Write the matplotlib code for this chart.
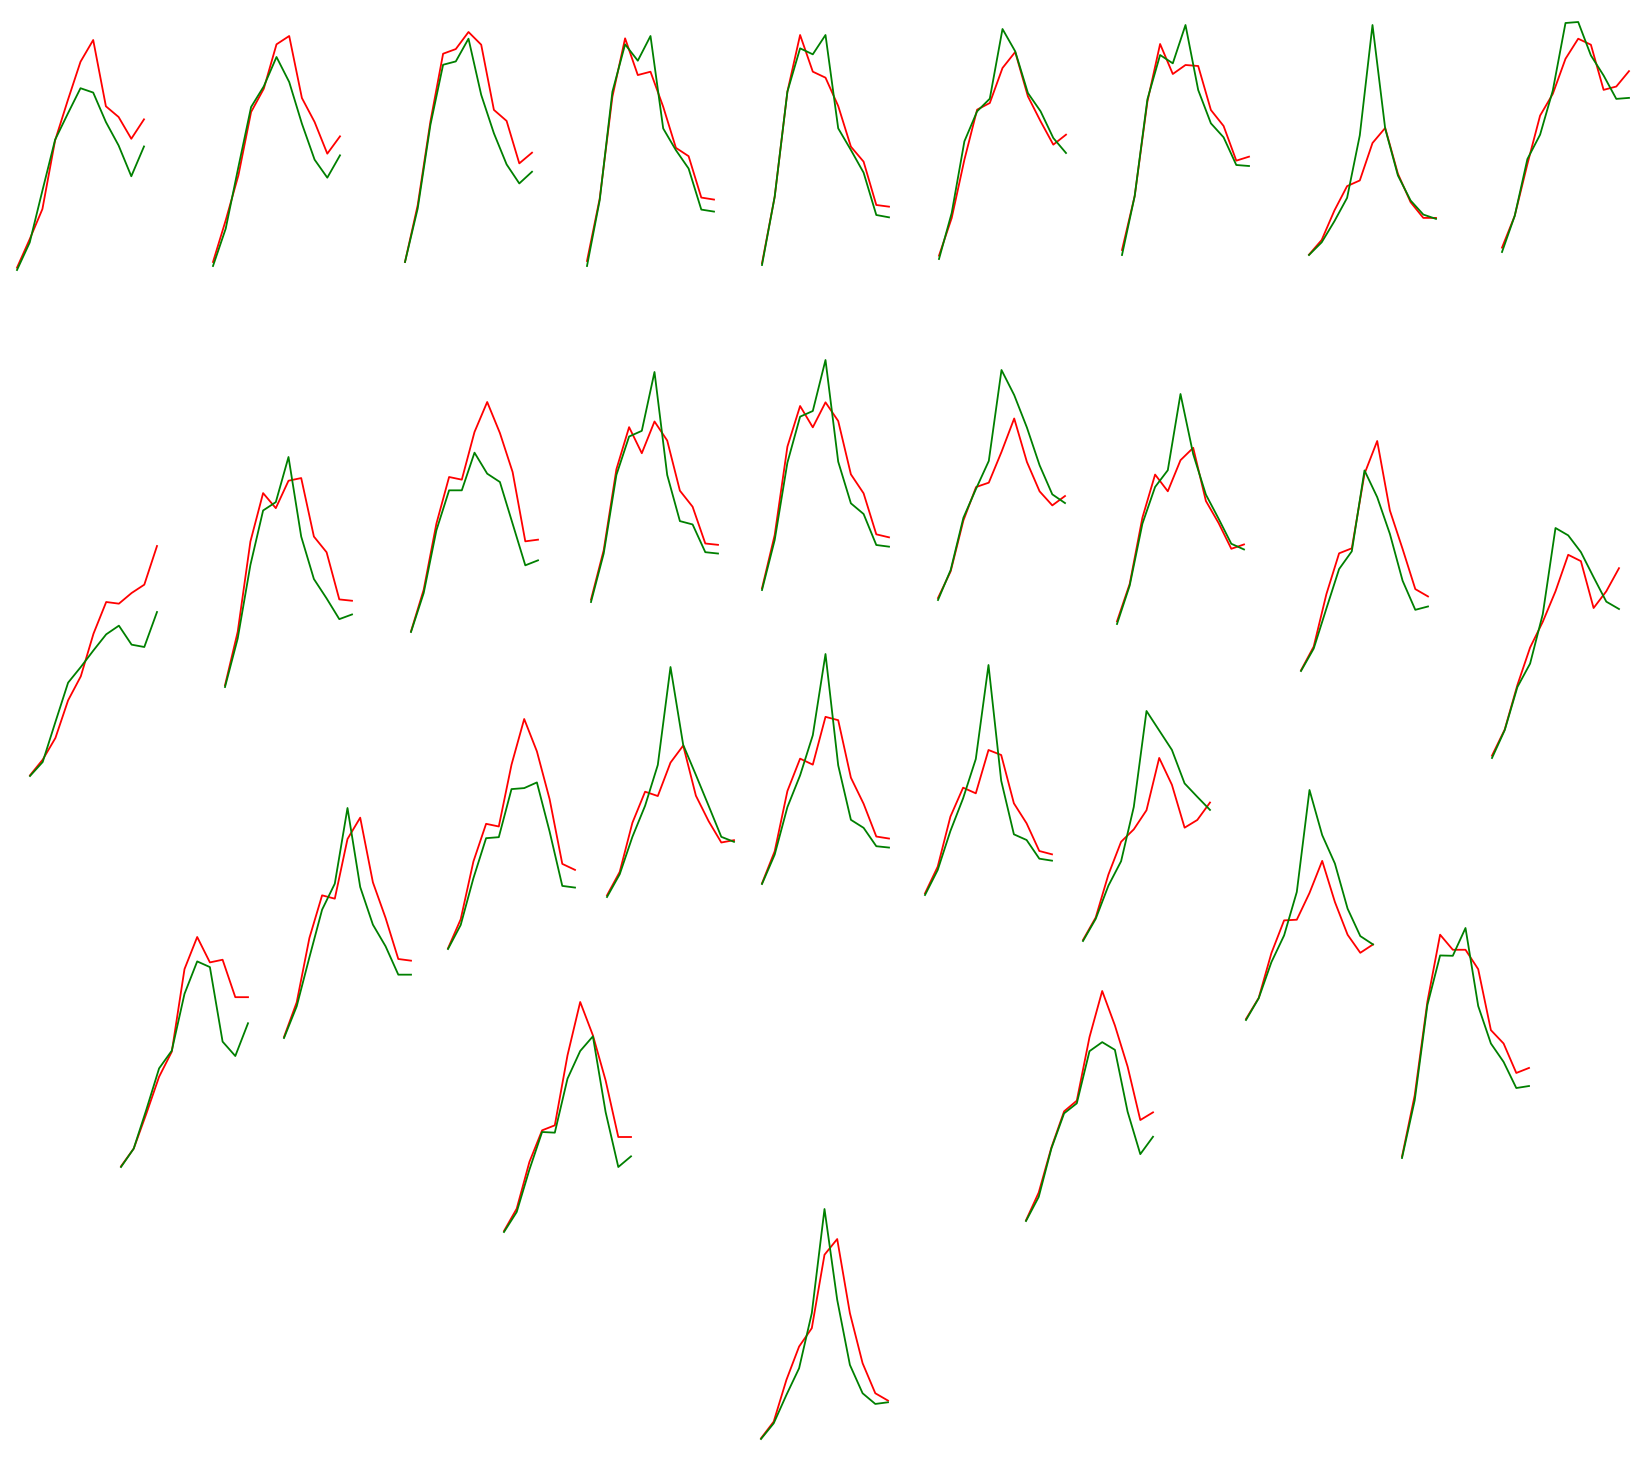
import numpy as np
import matplotlib
matplotlib.use("Agg")
import matplotlib.pyplot as plt

# 11 steps per sparkline
steps = np.arange(11)

# red / green series per panel, row by row (heights)
red_1 = [7, 92, 182, 387, 507, 622, 687, 489, 457, 392, 450]
green_1 = [0, 82, 237, 389, 467, 543, 530, 442, 372, 280, 369]
red_2 = [12, 137, 272, 462, 532, 665, 690, 504, 432, 337, 389]
green_2 = [0, 112, 297, 477, 539, 627, 552, 427, 319, 265, 332]
red_3 = [0, 170, 420, 623, 637, 688, 650, 455, 422, 295, 327]
green_3 = [0, 160, 410, 590, 600, 668, 500, 385, 292, 235, 270]
red_4 = [15, 202, 507, 682, 572, 582, 477, 354, 329, 205, 199]
green_4 = [0, 197, 522, 664, 615, 689, 412, 347, 292, 169, 163]
red_5 = [5, 205, 520, 690, 580, 562, 477, 355, 310, 180, 175]
green_5 = [0, 205, 520, 650, 632, 690, 410, 345, 277, 150, 143]
red_6 = [10, 123, 298, 448, 468, 573, 621, 488, 413, 343, 373]
green_6 = [0, 138, 353, 443, 481, 690, 623, 498, 443, 363, 318]
red_7 = [15, 177, 460, 633, 543, 570, 567, 435, 387, 283, 295]
green_7 = [0, 177, 467, 600, 575, 690, 495, 395, 353, 270, 267]
red_8 = [1, 45, 133, 206, 223, 335, 380, 243, 158, 111, 111]
green_8 = [0, 38, 101, 171, 358, 688, 378, 238, 163, 121, 108]
red_9 = [13, 108, 263, 408, 473, 578, 638, 620, 485, 495, 541]
green_9 = [0, 108, 278, 351, 483, 685, 688, 588, 528, 458, 461]

red_10 = [2, 49, 114, 227, 299, 427, 522, 517, 549, 574, 690]
green_10 = [0, 42, 162, 280, 327, 377, 425, 451, 394, 387, 492]
red_11 = [5, 165, 435, 580, 535, 617, 625, 450, 403, 262, 258]
green_11 = [0, 145, 365, 528, 553, 688, 450, 323, 265, 203, 217]
red_12 = [2, 127, 325, 465, 457, 600, 690, 597, 480, 272, 277]
green_12 = [0, 117, 305, 425, 425, 538, 475, 450, 325, 200, 215]
red_13 = [7, 155, 397, 523, 445, 540, 483, 333, 285, 175, 171]
green_13 = [0, 145, 380, 495, 512, 688, 380, 242, 232, 149, 145]
red_14 = [5, 165, 430, 552, 488, 563, 507, 347, 290, 167, 158]
green_14 = [0, 150, 382, 520, 537, 690, 385, 260, 228, 135, 130]
red_15 = [6, 86, 238, 338, 351, 443, 543, 413, 325, 283, 311]
green_15 = [0, 90, 246, 333, 416, 688, 613, 516, 403, 316, 290]
red_16 = [8, 120, 318, 447, 397, 490, 527, 368, 302, 225, 238]
green_16 = [0, 115, 300, 410, 460, 688, 508, 387, 315, 240, 223]
red_17 = [2, 73, 230, 352, 367, 590, 688, 480, 365, 245, 223]
green_17 = [0, 67, 187, 305, 358, 600, 520, 410, 270, 183, 193]
red_18 = [7, 85, 218, 330, 407, 498, 607, 588, 448, 498, 567]
green_18 = [0, 83, 212, 282, 430, 687, 665, 615, 540, 467, 445]

red_19 = [2, 55, 160, 270, 345, 592, 688, 612, 620, 508, 508]
green_19 = [0, 55, 172, 295, 348, 518, 615, 598, 375, 332, 430]
red_20 = [3, 107, 300, 428, 418, 597, 661, 467, 360, 237, 232]
green_20 = [0, 95, 242, 385, 463, 690, 453, 340, 275, 190, 190]
red_21 = [2, 89, 262, 375, 367, 552, 689, 592, 449, 255, 237]
green_21 = [0, 72, 212, 332, 335, 479, 482, 499, 352, 189, 184]
red_22 = [5, 75, 222, 315, 302, 402, 453, 303, 227, 163, 170]
green_22 = [0, 68, 180, 273, 395, 688, 455, 365, 273, 180, 165]
red_23 = [2, 98, 278, 375, 357, 500, 490, 318, 240, 142, 136]
green_23 = [0, 88, 230, 325, 445, 688, 355, 192, 168, 113, 109]
red_24 = [5, 85, 235, 322, 305, 435, 420, 275, 215, 132, 122]
green_24 = [0, 75, 192, 290, 408, 690, 343, 182, 165, 109, 103]
red_25 = [3, 70, 198, 296, 333, 390, 546, 466, 338, 361, 413]
green_25 = [0, 66, 165, 238, 400, 686, 628, 570, 470, 430, 391]
red_26 = [3, 66, 200, 298, 300, 380, 476, 353, 255, 201, 226]
green_26 = [0, 65, 173, 253, 383, 688, 553, 468, 333, 251, 226]
red_27 = [4, 187, 467, 667, 622, 622, 564, 382, 342, 254, 269]
green_27 = [0, 172, 457, 605, 604, 687, 454, 342, 287, 209, 215]

red_28 = [3, 70, 210, 305, 320, 530, 690, 590, 455, 285, 285]
green_28 = [0, 60, 187, 300, 298, 460, 543, 587, 360, 195, 227]
red_29 = [2, 85, 220, 328, 360, 550, 688, 585, 462, 302, 325]
green_29 = [0, 72, 217, 322, 352, 508, 535, 512, 327, 200, 252]
red_30 = [2, 52, 177, 277, 332, 552, 599, 377, 227, 137, 115]
green_30 = [0, 47, 132, 212, 377, 689, 417, 222, 137, 105, 110]

reds = [red_1, red_2, red_3, red_4, red_5, red_6, red_7, red_8, red_9,
        red_10, red_11, red_12, red_13, red_14, red_15, red_16, red_17, red_18,
        red_19, red_20, red_21, red_22, red_23, red_24, red_25, red_26, red_27,
        red_28, red_29, red_30]
greens = [green_1, green_2, green_3, green_4, green_5, green_6, green_7, green_8, green_9,
          green_10, green_11, green_12, green_13, green_14, green_15, green_16, green_17, green_18,
          green_19, green_20, green_21, green_22, green_23, green_24, green_25, green_26, green_27,
          green_28, green_29, green_30]

# layout: (left, top) of each panel in pixels
panel_pos = [
    (17, 40), (213, 36), (405, 32), (587, 36), (762, 35), (939, 29), (1122, 25), (1309, 25), (1502, 22),
    (30, 546), (225, 457), (411, 402), (591, 372), (762, 360), (938, 370), (1117, 394), (1301, 441), (1492, 528),
    (121, 937), (284, 808), (448, 719), (607, 667), (762, 654), (925, 665), (1083, 711), (1246, 790), (1402, 928),
    (504, 1002), (1026, 991), (761, 1209),
]
W, H = 1644, 1461
pw, ph = 127, 230

fig = plt.figure(figsize=(W / 100, H / 100), dpi=100)
fig.patch.set_facecolor('white')

for (left, top), r, g in zip(panel_pos, reds, greens):
    ax = fig.add_axes([left / W, 1 - (top + ph) / H, pw / W, ph / H])
    ax.plot(steps, r, color='red', lw=1.3, clip_on=False)
    ax.plot(steps, g, color='green', lw=1.3, clip_on=False)
    ax.set_xlim(0, 10)
    ax.set_ylim(min(min(r), min(g)), max(max(r), max(g)))
    ax.axis('off')

fig.savefig('out.png', dpi=100, facecolor='white')
